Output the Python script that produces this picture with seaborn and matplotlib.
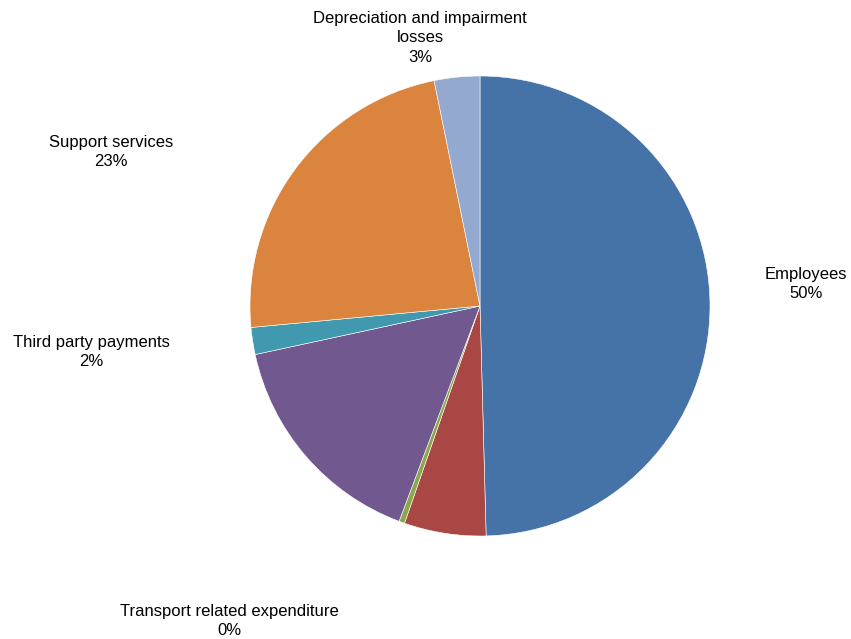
import matplotlib
matplotlib.use("Agg")
import matplotlib.pyplot as plt
import seaborn as sns

# Expenditure breakdown (share of total, %), clockwise from 12 o'clock
categories = ["Employees", "", "Transport related expenditure", "",
              "Third party payments", "Support services",
              "Depreciation and impairment\nlosses"]
shares = [49.6, 5.75, 0.4, 15.9, 1.9, 23.3, 3.2]
colors = ["#4573A8", "#A94744", "#8BA84D", "#71588F", "#4199AF", "#DB843D", "#93A9CF"]

# Label anchor positions (figure fractions) for the named slices
label_pos = {
    0: (806 / 851, 1 - 284 / 639),
    2: (229 / 851, 1 - 621 / 639),
    4: (91 / 851, 1 - 352 / 639),
    5: (111 / 851, 1 - 152 / 639),
    6: (420 / 851, 1 - 38 / 639),
}

sns.set_theme(style="white")
plt.rcParams["font.family"] = ["Liberation Sans", "DejaVu Sans"]

fig = plt.figure(figsize=(8.51, 6.39), dpi=100)
ax = fig.add_axes([250 / 851, 103 / 639, 460 / 851, 460 / 639])

ax.pie(shares, colors=colors, startangle=90, counterclock=False,
       radius=1.0, wedgeprops=dict(edgecolor="white", linewidth=0.4))
ax.set_xlim(-1, 1)
ax.set_ylim(-1, 1)
ax.set_aspect("equal")
ax.axis("off")

for i, (x, y) in label_pos.items():
    fig.text(x, y, f"{categories[i]}\n{round(shares[i])}%",
             ha="center", va="center", fontsize=12, color="black",
             linespacing=1.38)

fig.savefig("out.png", dpi=100, facecolor="white")
